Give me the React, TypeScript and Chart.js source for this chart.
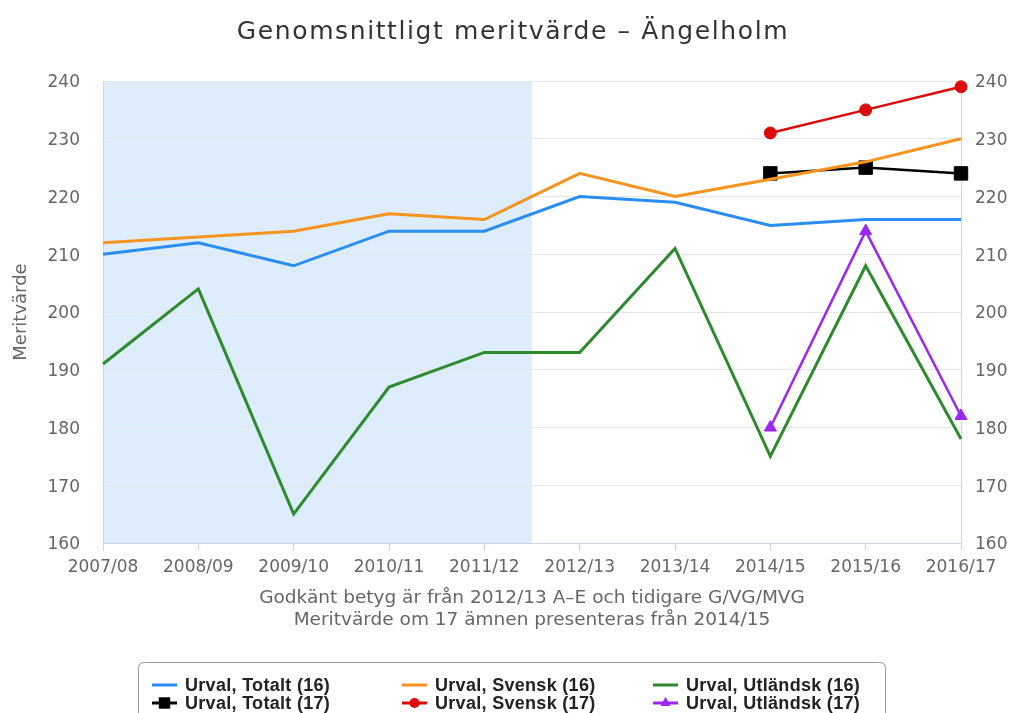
import React, { useEffect, useRef } from 'react';
import { Chart, registerables } from 'chart.js';

Chart.register(...registerables);

const chartTitle = 'Genomsnittligt meritvärde – Ängelholm';
const yAxisTitle = 'Meritvärde';
const xAxisTitle = [
  'Godkänt betyg är från 2012/13 A–E och tidigare G/VG/MVG',
  'Meritvärde om 17 ämnen presenteras från 2014/15',
];

const categories = [
  '2007/08', '2008/09', '2009/10', '2010/11', '2011/12',
  '2012/13', '2013/14', '2014/15', '2015/16', '2016/17',
];

const totalt16 = [210, 212, 208, 214, 214, 220, 219, 215, 216, 216];
const svensk16 = [212, 213, 214, 217, 216, 224, 220, 223, 226, 230];
const utlandsk16 = [191, 204, 165, 187, 193, 193, 211, 175, 208, 178];
const totalt17 = [null, null, null, null, null, null, null, 224, 225, 224];
const svensk17 = [null, null, null, null, null, null, null, 231, 235, 239];
const utlandsk17 = [null, null, null, null, null, null, null, 180, 214, 182];

const seriesLabels = [
  'Urval, Totalt (16)', 'Urval, Svensk (16)', 'Urval, Utländsk (16)',
  'Urval, Totalt (17)', 'Urval, Svensk (17)', 'Urval, Utländsk (17)',
];

const yMin = 160;
const yMax = 240;
const yStep = 10;
// last index of the old grading system (shaded background)
const oldGradingLastIndex = 4;

const COLORS = {
  blue: '#2a8df0',
  orange: '#f7931e',
  green: '#2e8a2e',
  black: '#000000',
  red: '#dd0a0a',
  purple: '#9b27f0',
};

const shadePlugin = {
  id: 'shade',
  beforeDraw(chart: any) {
    const { ctx, chartArea, scales } = chart;
    const x1 = scales.x.getPixelForValue(oldGradingLastIndex + 0.5);
    ctx.save();
    ctx.fillStyle = '#ddedfb';
    ctx.fillRect(chartArea.left, chartArea.top, x1 - chartArea.left, chartArea.bottom - chartArea.top);
    ctx.restore();
  },
};

const titlePlugin = {
  id: 'customTitle',
  afterDraw(chart: any) {
    const { ctx } = chart;
    ctx.save();
    ctx.font = '25px "DejaVu Sans"';
    (ctx as any).letterSpacing = '1.6px';
    ctx.fillStyle = '#333333';
    ctx.textAlign = 'center';
    ctx.textBaseline = 'middle';
    ctx.fillText(chartTitle, 513, 32);
    ctx.restore();
  },
};

function drawMarker(ctx: CanvasRenderingContext2D, style: string, x: number, y: number, r: number, color: string) {
  ctx.fillStyle = color;
  ctx.beginPath();
  if (style === 'rect') {
    const s = r * Math.SQRT1_2;
    ctx.rect(x - s, y - s, 2 * s, 2 * s);
  } else if (style === 'triangle') {
    ctx.moveTo(x, y - r);
    ctx.lineTo(x + r * 0.866, y + r * 0.5);
    ctx.lineTo(x - r * 0.866, y + r * 0.5);
    ctx.closePath();
  } else {
    ctx.arc(x, y, r, 0, Math.PI * 2);
  }
  ctx.fill();
}

const legendPlugin = {
  id: 'customLegend',
  afterDraw(chart: any) {
    const { ctx } = chart;
    const datasets = chart.data.datasets;
    ctx.save();
    // box
    ctx.strokeStyle = '#9a9a9a';
    ctx.lineWidth = 1;
    const bx = 138.5, by = 662.5, bw = 747, bh = 70, br = 6;
    ctx.beginPath();
    ctx.moveTo(bx + br, by);
    ctx.lineTo(bx + bw - br, by);
    ctx.quadraticCurveTo(bx + bw, by, bx + bw, by + br);
    ctx.lineTo(bx + bw, by + bh);
    ctx.moveTo(bx, by + bh);
    ctx.lineTo(bx, by + br);
    ctx.quadraticCurveTo(bx, by, bx + br, by);
    ctx.stroke();

    const colX = [152, 402, 653];
    const rowY = [685, 703];
    ctx.font = 'bold 18px "Liberation Sans"';
    (ctx as any).letterSpacing = '0.3px';
    ctx.textBaseline = 'middle';
    ctx.textAlign = 'left';
    datasets.forEach((ds: any, i: number) => {
      const col = i % 3;
      const row = Math.floor(i / 3);
      const x = colX[col];
      const y = rowY[row];
      ctx.strokeStyle = ds.borderColor;
      ctx.lineWidth = 3;
      ctx.beginPath();
      ctx.moveTo(x, y);
      ctx.lineTo(x + 25, y);
      ctx.stroke();
      if (ds.pointRadius > 0) {
        drawMarker(ctx, ds.pointStyle, x + 12.5, y, ds.pointRadius * 0.85, ds.borderColor);
      }
      ctx.fillStyle = '#222222';
      ctx.fillText(ds.label, x + 33, y + 1);
    });
    ctx.restore();
  },
};

export default function App() {
  const ref = useRef<HTMLCanvasElement>(null);

  useEffect(() => {
    if (!ref.current) return;
    const line16 = (label: string, data: number[], color: string) => ({
      label,
      data,
      borderColor: color,
      backgroundColor: color,
      borderWidth: 3,
      pointRadius: 0,
      pointHoverRadius: 0,
      tension: 0,
      clip: false as any,
      yAxisID: 'y',
    });
    const line17 = (label: string, data: (number | null)[], color: string, style: string, radius: number) => ({
      label,
      data,
      borderColor: color,
      backgroundColor: color,
      borderWidth: 2.5,
      pointStyle: style,
      pointRadius: radius,
      pointBorderWidth: 1,
      pointBackgroundColor: color,
      pointBorderColor: color,
      tension: 0,
      clip: false as any,
      spanGaps: false,
      yAxisID: 'y',
    });

    const font = (size: number, extra: any = {}) => ({ family: '"DejaVu Sans"', size, ...extra });

    const chart = new Chart(ref.current, {
      type: 'line',
      data: {
        labels: categories,
        datasets: [
          line16(seriesLabels[0], totalt16, COLORS.blue),
          line16(seriesLabels[1], svensk16, COLORS.orange),
          line16(seriesLabels[2], utlandsk16, COLORS.green),
          line17(seriesLabels[3], totalt17, COLORS.black, 'rect', 9.5),
          line17(seriesLabels[4], svensk17, COLORS.red, 'circle', 6),
          line17(seriesLabels[5], utlandsk17, COLORS.purple, 'triangle', 7),
        ] as any,
      },
      options: {
        responsive: false,
        animation: false,
        layout: { padding: { top: 81, bottom: 82, left: 0, right: 0 } },
        plugins: {
          legend: { display: false },
          title: { display: false },
          tooltip: { enabled: false },
        },
        scales: {
          x: {
            type: 'category',
            offset: false,
            afterFit: (s: any) => { s.height = 88; },
            grid: {
              display: true,
              drawOnChartArea: false,
              drawTicks: true,
              tickLength: 8,
              color: '#ccd6eb',
            },
            border: { display: true, color: '#ccd6eb' },
            ticks: {
              color: '#666666',
              font: font(17),
              padding: 6,
              autoSkip: false,
              maxRotation: 0,
              minRotation: 0,
            },
            title: {
              display: true,
              text: xAxisTitle,
              color: '#666666',
              font: font(18.5, { lineHeight: '22px' }),
              padding: { top: 0, bottom: 0 },
            },
          },
          y: {
            position: 'left',
            min: yMin,
            max: yMax,
            afterFit: (s: any) => { s.width = 103; },
            grid: { color: '#e6e6e6', drawTicks: false },
            border: { display: true, color: '#ccd6eb' },
            ticks: {
              stepSize: yStep,
              color: '#666666',
              font: font(17),
              padding: 23,
              labelOffset: 2,
            },
            title: {
              display: true,
              text: yAxisTitle,
              color: '#666666',
              font: font(18),
              padding: { top: 11, bottom: 0 },
            },
          },
          y1: {
            position: 'right',
            min: yMin,
            max: yMax,
            afterFit: (s: any) => { s.width = 58; },
            grid: { drawOnChartArea: false, drawTicks: false },
            border: { display: true, color: '#ccd6eb' },
            ticks: {
              stepSize: yStep,
              color: '#666666',
              font: font(17),
              padding: 14,
              labelOffset: 2,
            },
          },
        },
      } as any,
      plugins: [shadePlugin, titlePlugin, legendPlugin],
    });
    return () => chart.destroy();
  }, []);

  return (
    <div style={{ position: 'fixed', left: 0, top: 0, width: 1019, height: 713, background: '#ffffff' }}>
      <canvas ref={ref} width={1019} height={713} style={{ display: 'block' }} />
    </div>
  );
}
